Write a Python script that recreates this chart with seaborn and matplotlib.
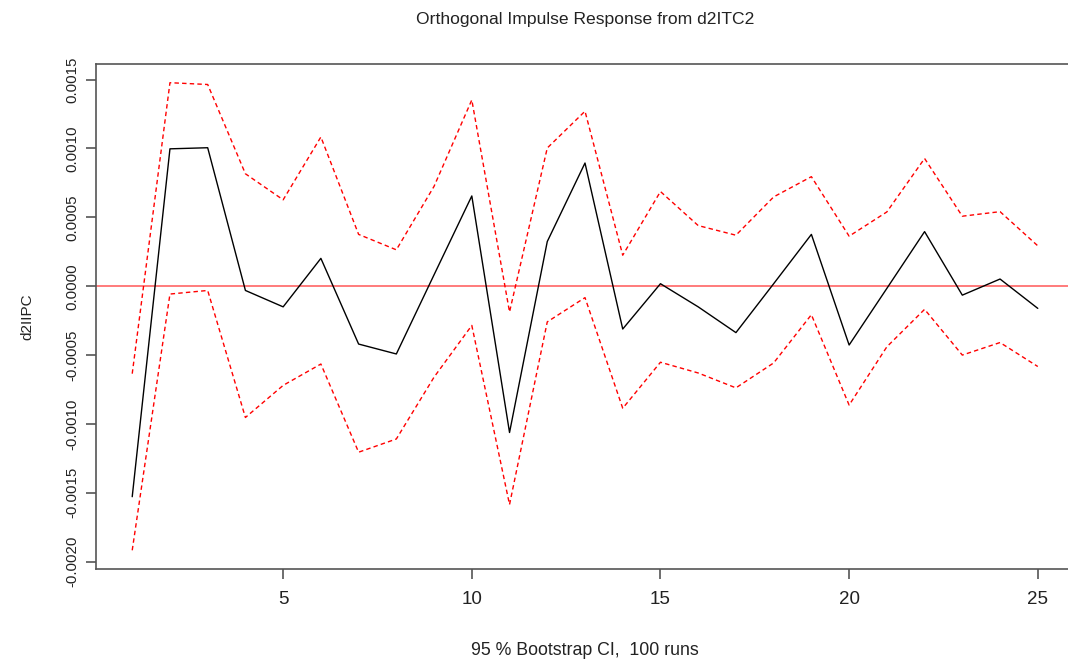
import numpy as np
import pandas as pd
import matplotlib
matplotlib.use("Agg")
import matplotlib.pyplot as plt
import seaborn as sns

# impulse response of d2IIPC to d2ITC2, with 95% bootstrap bands
horizon = list(range(1, 26))
irf = [-0.001528, 0.000997, 0.001005, -0.000031, -0.000150, 0.000202, -0.000420,
       -0.000492, 0.000083, 0.000655, -0.001062, 0.000324, 0.000894, -0.000311,
       0.000018, -0.000150, -0.000337, 0.000018, 0.000376, -0.000427, -0.000016,
       0.000396, -0.000065, 0.000052, -0.000161]
upper = [-0.000635, 0.001477, 0.001464, 0.000816, 0.000627, 0.001083, 0.000376,
         0.000264, 0.000725, 0.001352, -0.000187, 0.001003, 0.001270, 0.000225,
         0.000687, 0.000440, 0.000370, 0.000648, 0.000795, 0.000363, 0.000539,
         0.000927, 0.000508, 0.000541, 0.000293]
lower = [-0.001917, -0.000057, -0.000031, -0.000953, -0.000720, -0.000565, -0.001205,
         -0.001109, -0.000660, -0.000285, -0.001585, -0.000259, -0.000083, -0.000886,
         -0.000552, -0.000630, -0.000738, -0.000557, -0.000207, -0.000863, -0.000440,
         -0.000168, -0.000500, -0.000409, -0.000583]
yticks = [-0.0020, -0.0015, -0.0010, -0.0005, 0.0000, 0.0005, 0.0010, 0.0015]
xticks = [5, 10, 15, 20, 25]

df = pd.DataFrame({"h": horizon, "irf": irf, "upper": upper, "lower": lower})

sns.set_style("white")
plt.rcParams["font.family"] = ["Liberation Sans", "DejaVu Sans"]

fig = plt.figure(figsize=(10.68, 6.59), dpi=100)
# plot region (R-like margins), slightly cut off on the right like the screenshot
ax = fig.add_axes([96 / 1068, 1 - 569 / 659, (1074 - 96) / 1068, (569 - 64) / 659])

dash = (0, (3.2, 2.3))
sns.lineplot(data=df, x="h", y="irf", color="black", linewidth=1.0, ax=ax)
sns.lineplot(data=df, x="h", y="upper", color="red", linewidth=1.0, linestyle=dash, ax=ax)
sns.lineplot(data=df, x="h", y="lower", color="red", linewidth=1.0, linestyle=dash, ax=ax)
ax.axhline(0, color="#ff7b7b", linewidth=1.4, zorder=0)

# R default 4% padding
xr = max(horizon) - min(horizon)
ax.set_xlim(min(horizon) - 0.04 * xr, max(horizon) + 0.04 * xr)
ymin, ymax = min(lower), max(upper)
yr = ymax - ymin
ax.set_ylim(ymin - 0.04 * yr, ymax + 0.04 * yr)

ax.set_xticks(xticks)
ax.set_xticklabels([str(t) for t in xticks])
ax.set_yticks(yticks)
ax.set_yticklabels([f"{t:.4f}" for t in yticks], rotation=90, va="center")
ax.tick_params(axis="both", direction="out", length=7, width=1.2, color="#555555",
               labelcolor="#222222", bottom=True, left=True)
ax.tick_params(axis="x", labelsize=13.5, pad=8.5)
ax.tick_params(axis="y", labelsize=10.8, pad=5)

for s in ax.spines.values():
    s.set_color("#555555")
    s.set_linewidth(1.2)

ax.set_xlabel("95 % Bootstrap CI,  100 runs", fontsize=12.8, color="#222222", labelpad=25)
ax.set_ylabel("d2IIPC", fontsize=11, color="#222222", labelpad=22)
ax.set_title("Orthogonal Impulse Response from d2ITC2", fontsize=12.6,
             color="#222222", pad=29)

fig.savefig("out.png", dpi=100)
